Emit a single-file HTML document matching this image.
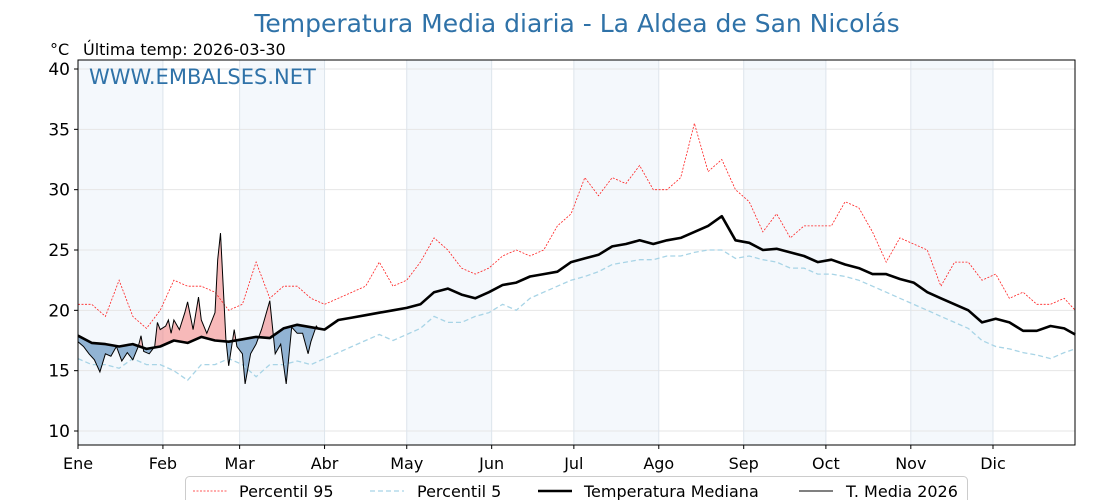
<!DOCTYPE html>
<html><head><meta charset="utf-8">
<style>
body{margin:0;background:#fff;}
svg{display:block;font-family:"Liberation Sans","DejaVu Sans",sans-serif;}
</style></head>
<body>
<svg id="chart" width="1120" height="500" viewBox="0 0 1120 500" xmlns="http://www.w3.org/2000/svg">
<text x="577" y="32" text-anchor="middle" font-size="25" fill="#2f72a8" font-family="DejaVu Sans, sans-serif">Temperatura Media diaria - La Aldea de San Nicolás</text>
<text x="50" y="55" font-size="16" fill="#000" font-family="DejaVu Sans, sans-serif">°C</text>
<text x="83" y="55" font-size="16" fill="#000" font-family="DejaVu Sans, sans-serif">Última temp: 2026-03-30</text>
<g id="plot"></g>
</svg>
<script>
const monthLabels=["Ene","Feb","Mar","Abr","May","Jun","Jul","Ago","Sep","Oct","Nov","Dic"];
const monthStarts=[0,31,59,90,120,151,181,212,243,273,304,334];
const yTicks=[10,15,20,25,30,35,40];
const sampleDays=[0,5,10,15,20,25,30,35,40,45,50,55,60,65,70,75,80,85,90,95,100,105,110,115,120,125,130,135,140,145,150,155,160,165,170,175,180,185,190,195,200,205,210,215,220,225,230,235,240,245,250,255,260,265,270,275,280,285,290,295,300,305,310,315,320,325,330,335,340,345,350,355,360,364];
const median=[17.9,17.3,17.2,17.0,17.2,16.8,17.0,17.5,17.3,17.8,17.5,17.4,17.6,17.8,17.7,18.5,18.8,18.6,18.4,19.2,19.4,19.6,19.8,20.0,20.2,20.5,21.5,21.8,21.3,21.0,21.5,22.1,22.3,22.8,23.0,23.2,24.0,24.3,24.6,25.3,25.5,25.8,25.5,25.8,26.0,26.5,27.0,27.8,25.8,25.6,25.0,25.1,24.8,24.5,24.0,24.2,23.8,23.5,23.0,23.0,22.6,22.3,21.5,21.0,20.5,20.0,19.0,19.3,19.0,18.3,18.3,18.7,18.5,18.0];
const p95=[20.5,20.5,19.5,22.5,19.5,18.5,20.0,22.5,22.0,22.0,21.5,20.0,20.5,24.0,21.0,22.0,22.0,21.0,20.5,21.0,21.5,22.0,24.0,22.0,22.5,24.0,26.0,25.0,23.5,23.0,23.5,24.5,25.0,24.5,25.0,27.0,28.0,31.0,29.5,31.0,30.5,32.0,30.0,30.0,31.0,35.5,31.5,32.5,30.0,29.0,26.5,28.0,26.0,27.0,27.0,27.0,29.0,28.5,26.5,24.0,26.0,25.5,25.0,22.0,24.0,24.0,22.5,23.0,21.0,21.5,20.5,20.5,21.0,20.0];
const p5=[16.0,15.5,15.5,15.2,16.0,15.5,15.5,15.0,14.2,15.5,15.5,16.0,15.5,14.5,15.5,15.5,15.8,15.5,16.0,16.5,17.0,17.5,18.0,17.5,18.0,18.5,19.5,19.0,19.0,19.5,19.8,20.5,20.0,21.0,21.5,22.0,22.5,22.8,23.2,23.8,24.0,24.2,24.2,24.5,24.5,24.8,25.0,25.0,24.3,24.5,24.2,24.0,23.5,23.5,23.0,23.0,22.8,22.5,22.0,21.5,21.0,20.5,20.0,19.5,19.0,18.5,17.5,17.0,16.8,16.5,16.3,16.0,16.5,16.8];
const days2026=[0,2,4,6,8,10,12,14,16,18,20,22,23,24,26,28,29,30,32,33,34,35,37,39,40,42,44,45,47,50,51,52,53,54,55,57,58,60,61,63,65,67,68,70,71,72,74,76,78,80,82,84,85,87,88];
const temp2026=[17.4,17.0,16.4,15.9,14.9,16.4,16.2,17.0,15.8,16.5,15.9,17.0,17.9,16.6,16.4,17.0,19.0,18.4,18.7,19.2,18.1,19.2,18.4,19.8,20.7,18.4,21.1,19.2,18.1,19.8,24.2,26.4,22.0,17.6,15.4,18.4,17.0,16.4,13.9,16.4,17.2,18.4,19.2,20.8,18.6,16.4,17.2,13.9,18.6,18.1,18.1,16.4,17.4,18.7,18.4];

const NS="http://www.w3.org/2000/svg";
const X0=78,X1=1075,Y0=60,Y1=445;
const x=d=>X0+d*(915/334);
const y=v=>431-(v-10)*(362/30);
const g=document.getElementById('plot');
function mk(tag,attrs,parent){const e=document.createElementNS(NS,tag);for(const k in attrs)e.setAttribute(k,attrs[k]);(parent||g).appendChild(e);return e;}
function interp(d){for(let i=0;i<sampleDays.length-1;i++){if(d>=sampleDays[i]&&d<=sampleDays[i+1]){const t=(d-sampleDays[i])/(sampleDays[i+1]-sampleDays[i]);return median[i]+t*(median[i+1]-median[i]);}}return median[median.length-1];}

for(let i=0;i<12;i+=2){
  const end=i+1<12?monthStarts[i+1]:365;
  const r=mk('rect',{x:x(monthStarts[i]),y:Y0,width:x(end)-x(monthStarts[i]),height:Y1-Y0,fill:'#f4f8fc'});
  
  
}
yTicks.forEach(v=>{const l=mk('line',{x1:X0,x2:X1,y1:y(v),y2:y(v),stroke:'#e6e6e6','stroke-width':1});
  });
monthStarts.forEach(d=>{const l=mk('line',{x1:x(d),x2:x(d),y1:Y0,y2:Y1,stroke:'#dde4ec','stroke-width':1});
  });

const pts=(ds,vs)=>ds.map((d,i)=>x(d).toFixed(1)+','+y(vs[i]).toFixed(1)).join(' ');

const defs=mk('defs',{});
const medPts=sampleDays.map((d,i)=>x(d).toFixed(1)+','+y(median[i]).toFixed(1)).join(' ');
const cpA=mk('clipPath',{id:'above'},defs);
mk('polygon',{points:x(0)+','+Y0+' '+medPts+' '+x(364)+','+Y0},cpA);
const cpB=mk('clipPath',{id:'below'},defs);
mk('polygon',{points:x(0)+','+Y1+' '+medPts+' '+x(364)+','+Y1},cpB);
const lastD=days2026[days2026.length-1];
let back=[];for(let d=lastD;d>=0;d--)back.push(x(d).toFixed(1)+','+y(interp(d)).toFixed(1));
const fillPts=pts(days2026,temp2026)+' '+back.join(' ');
const fa=mk('polygon',{points:fillPts,fill:'#f08080','fill-opacity':0.55,'clip-path':'url(#above)'});

const fb=mk('polygon',{points:fillPts,fill:'#4f86b8','fill-opacity':0.6,'clip-path':'url(#below)'});


const l95=mk('polyline',{points:pts(sampleDays,p95),fill:'none',stroke:'#ff2020','stroke-width':0.8,'stroke-dasharray':'2,1.5'});

const l5=mk('polyline',{points:pts(sampleDays,p5),fill:'none',stroke:'#a8d4e6','stroke-width':1.3,'stroke-dasharray':'5,3'});

const lm=mk('polyline',{points:pts(sampleDays,median),fill:'none',stroke:'#000','stroke-width':2.6,'stroke-linejoin':'round'});

const l26=mk('polyline',{points:pts(days2026,temp2026),fill:'none',stroke:'#000','stroke-width':1});


const fr=mk('rect',{x:X0,y:Y0,width:X1-X0,height:Y1-Y0,fill:'none',stroke:'#000','stroke-width':1});


yTicks.forEach(v=>{
  mk('line',{x1:X0-4,x2:X0,y1:y(v),y2:y(v),stroke:'#000'});
  const t=mk('text',{x:X0-8,y:y(v)+6,'text-anchor':'end','font-size':17,'font-family':'DejaVu Sans, sans-serif'});
  t.textContent=v;
  
});
monthStarts.forEach((d,i)=>{
  mk('line',{x1:x(d),x2:x(d),y1:Y1,y2:Y1+4,stroke:'#000'});
  const t=mk('text',{x:x(d),y:469,'text-anchor':'middle','font-size':16,'font-family':'DejaVu Sans, sans-serif'});
  t.textContent=monthLabels[i];
  
});

const wm=mk('text',{x:89,y:84,'font-size':21,fill:'#2f72a8','font-family':'DejaVu Sans, sans-serif'});
wm.textContent='WWW.EMBALSES.NET';


const lg=mk('g',{});

mk('rect',{x:185.5,y:476.5,width:782,height:30,rx:4,fill:'#fff',stroke:'#ccc'},lg);
const entries=[
 {name:'Percentil 95',lx:193,tx:239,stroke:'#ff2020',w:0.8,dash:'2,1.5'},
 {name:'Percentil 5',lx:370,tx:417,stroke:'#a8d4e6',w:1.3,dash:'5,3'},
 {name:'Temperatura Mediana',lx:538,tx:584,stroke:'#000',w:2.6,dash:''},
 {name:'T. Media 2026',lx:799,tx:846,stroke:'#000',w:1,dash:''}
];
entries.forEach(e=>{
  const eg=mk('g',{},lg);
  
  mk('line',{x1:e.lx,x2:e.lx+34,y1:491,y2:491,stroke:e.stroke,'stroke-width':e.w,'stroke-dasharray':e.dash},eg);
  const t=mk('text',{x:e.tx,y:497,'font-size':16,'font-family':'DejaVu Sans, sans-serif'},eg);
  t.textContent=e.name;
});
</script>
</body></html>
